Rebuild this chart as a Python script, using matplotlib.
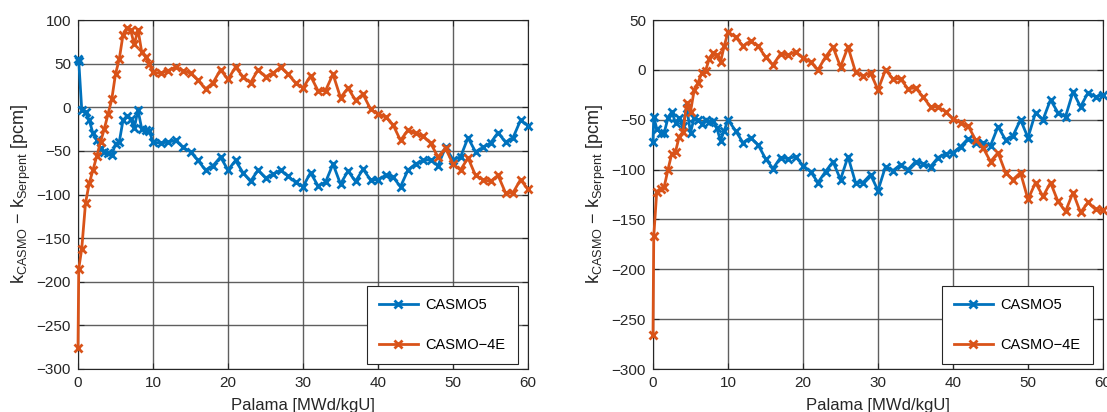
import matplotlib
matplotlib.use("Agg")
import matplotlib.pyplot as plt

plt.rcParams['font.family'] = ['Liberation Sans', 'DejaVu Sans']
plt.rcParams['mathtext.fontset'] = 'custom'
plt.rcParams['mathtext.rm'] = 'Liberation Sans'

burnup = [0, 0.1, 0.5, 1, 1.5, 2, 2.5, 3, 3.5, 4, 4.5, 5, 5.5, 6, 6.5, 7, 7.5, 8, 8.5, 9, 9.5, 10,
          11, 12, 13, 14, 15, 16, 17, 18, 19, 20, 21, 22, 23, 24, 25, 26, 27, 28, 29, 30,
          31, 32, 33, 34, 35, 36, 37, 38, 39, 40, 41, 42, 43, 44, 45, 46, 47, 48, 49, 50,
          51, 52, 53, 54, 55, 56, 57, 58, 59, 60]

left_casmo5 = [55, 53, -3, -5, -15, -30, -38, -47, -51, -53, -55, -42, -40, -15, -10, -13, -24, -3, -25, -26, -27, -40,
               -41, -40, -38, -46, -51, -61, -72, -67, -57, -72,
               -61, -75, -85, -72, -81, -77, -72, -79, -86, -91,
               -75, -90, -86, -65, -88, -73, -85, -71, -83, -83,
               -78, -80, -91, -72, -65, -61, -60, -67, -46, -60,
               -57, -35, -51, -46, -41, -29, -40, -35, -15, -21]
left_casmo4e = [-276, -185, -162, -110, -87, -72, -56, -40, -25, -8, 9, 38, 55, 83, 91, 89, 72, 89, 63, 58, 50, 40,
                39, 42, 46, 42, 39, 31, 21, 28, 43, 32,
                46, 35, 28, 43, 35, 39, 46, 38, 28, 22,
                36, 19, 19, 38, 11, 22, 8, 15, -2, -8,
                -11, -20, -38, -26, -30, -33, -41, -57, -47, -65,
                -72, -58, -78, -83, -85, -78, -98, -98, -83, -94]

right_casmo5 = [-72, -47, -59, -63, -63, -48, -42, -53, -48, -56, -38, -63, -48, -50, -54, -50, -52, -51, -58, -71, -61, -50,
                -61, -73, -68, -75, -89, -99, -88, -89, -87, -96,
                -102, -113, -102, -92, -110, -87, -113, -113, -105, -121,
                -97, -101, -95, -100, -92, -94, -97, -88, -84, -83,
                -77, -69, -73, -73, -76, -57, -70, -66, -50, -68,
                -43, -50, -30, -43, -47, -22, -37, -23, -27, -25]
right_casmo4e = [-266, -167, -122, -119, -117, -100, -84, -82, -67, -62, -33, -42, -20, -13, -3, -1, 11, 17, 15, 8, 24, 38,
                 33, 24, 29, 24, 13, 5, 16, 15, 18, 12,
                 8, 0, 13, 23, 3, 23, -2, -6, -3, -20,
                 0, -9, -9, -19, -18, -27, -37, -37, -42, -49,
                 -53, -56, -70, -78, -92, -83, -103, -110, -103, -130,
                 -113, -127, -113, -132, -142, -123, -143, -133, -140, -141]

series_labels = ['CASMO5', 'CASMO\u22124E']
x_ticks = [0, 10, 20, 30, 40, 50, 60]
left_yticks = [-300, -250, -200, -150, -100, -50, 0, 50, 100]
right_yticks = [-300, -250, -200, -150, -100, -50, 0, 50]
xlabel = 'Palama [MWd/kgU]'
ylabel = r'$\mathregular{k_{CASMO}}$ $\mathregular{-}$ $\mathregular{k_{Serpent}}$ [pcm]'

blue = '#0072BD'
orange = '#D95319'

fig = plt.figure(figsize=(11.07, 4.12), dpi=100)
W, H = 1107, 412
ax1 = fig.add_axes([78 / W, (H - 369) / H, 450 / W, 349 / H])
ax2 = fig.add_axes([653 / W, (H - 369) / H, 450 / W, 349 / H])

for ax, c5, c4, yt in [(ax1, left_casmo5, left_casmo4e, left_yticks),
                       (ax2, right_casmo5, right_casmo4e, right_yticks)]:
    ax.plot(burnup, c5, color=blue, lw=2, marker='x', ms=6, mew=2, label=series_labels[0], clip_on=False, zorder=3)
    ax.plot(burnup, c4, color=orange, lw=2, marker='x', ms=6, mew=2, label=series_labels[1], clip_on=False, zorder=3)
    ax.set_xlim(0, 60)
    ax.set_ylim(yt[0], yt[-1])
    ax.set_xticks(x_ticks)
    ax.set_yticks(yt)
    ax.grid(True, color='#4d4d4d', lw=1.0, alpha=0.9)
    ax.set_axisbelow(True)
    ax.tick_params(direction='in', length=4, width=0.8, labelsize=11, colors='#262626',
                   top=True, right=True, pad=5)
    for s in ax.spines.values():
        s.set_color('#262626')
        s.set_linewidth(0.8)
    ax.set_xlabel(xlabel, fontsize=12, color='#262626', labelpad=6)
    ax.set_ylabel(ylabel, fontsize=13, color='#262626', labelpad=3)
    leg = ax.legend(loc='lower right', bbox_to_anchor=(0.978, 0.014), borderaxespad=0,
                    fontsize=10.5, fancybox=False, framealpha=1, edgecolor='#262626',
                    labelspacing=1.75, borderpad=0.85, handlelength=2.65, handletextpad=0.55)
    leg.get_frame().set_linewidth(0.8)
    leg.set_zorder(5)

fig.savefig('out.png', dpi=100)
